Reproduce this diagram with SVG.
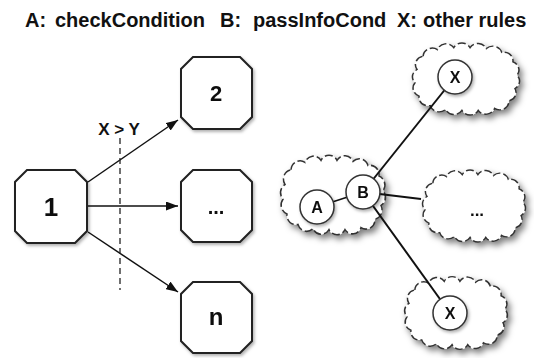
<svg xmlns="http://www.w3.org/2000/svg" width="534" height="358" viewBox="0 0 534 358">
<style>
text{font-family:"Liberation Sans",Arial,sans-serif;font-weight:bold;fill:#111}
.title{font-size:20px}
.oct{fill:#fff;stroke:#222;stroke-width:2}
.cloud{fill:#fff;stroke:#333;stroke-width:1.5;stroke-dasharray:8 3}
.circ{fill:#fff;stroke:#333;stroke-width:1.5}
.edge{stroke:#111;stroke-width:1.5;fill:none}
.link{stroke:#111;stroke-width:2;fill:none}
.lbl{text-anchor:middle}
</style>
<defs>
<filter id="sh" x="-20%" y="-20%" width="150%" height="150%">
<feDropShadow dx="3" dy="4" stdDeviation="3" flood-color="#000" flood-opacity="0.5"/>
</filter>
<filter id="sh2" x="-20%" y="-20%" width="150%" height="150%">
<feDropShadow dx="1.5" dy="2" stdDeviation="1.5" flood-color="#000" flood-opacity="0.3"/>
</filter>
<marker id="arr" viewBox="0 0 12 9" refX="12" refY="4.5" markerWidth="12" markerHeight="9" markerUnits="userSpaceOnUse" orient="auto">
<path d="M0,0 L12,4.5 L0,9 Z" fill="#111"/>
</marker>
<path id="cloudShape" d="M-42,-24 A9,9 0 0 1 -28,-31 A9,9 0 0 1 -12,-33 A9,9 0 0 1 4,-33 A9,9 0 0 1 20,-32 A9,9 0 0 1 35,-28 A9,9 0 0 1 46,-18 A9,9 0 0 1 50,-4 A9,9 0 0 1 48,10 A9,9 0 0 1 42,23 A9,9 0 0 1 28,31 A9,9 0 0 1 12,33 A9,9 0 0 1 -4,33 A9,9 0 0 1 -20,32 A9,9 0 0 1 -35,28 A9,9 0 0 1 -46,18 A9,9 0 0 1 -50,4 A9,9 0 0 1 -48,-10 A9,9 0 0 1 -42,-24 Z"/>
</defs>

<g id="title">
<text class="title" x="25" y="27">A:</text>
<text class="title" x="55" y="27">checkCondition</text>
<text class="title" x="220" y="27">B:</text>
<text class="title" x="253" y="27">passInfoCond</text>
<text class="title" x="397" y="27">X:</text>
<text class="title" x="423" y="27">other rules</text>
</g>

<!-- left diagram -->
<g id="node-1" filter="url(#sh2)">
<path class="oct" d="M27,170 H75 L87,182 V231 L75,243 H27 L15,231 V182 Z"/>
<text class="lbl" x="51" y="216" style="font-size:26px">1</text>
</g>
<g id="node-2" filter="url(#sh2)">
<path class="oct" d="M193,57 H240 L252,69 V117 L240,129 H193 L181,117 V69 Z"/>
<text class="lbl" x="216" y="101" style="font-size:22px">2</text>
</g>
<g id="node-dots" filter="url(#sh2)">
<path class="oct" d="M193,170 H240 L252,182 V230 L240,242 H193 L181,230 V182 Z"/>
<text class="lbl" x="216" y="214" style="font-size:20px">...</text>
</g>
<g id="node-n" filter="url(#sh2)">
<path class="oct" d="M193,282 H240 L252,294 V341 L240,353 H193 L181,341 V294 Z"/>
<text class="lbl" x="216" y="325" style="font-size:24px">n</text>
</g>

<g id="connectors-left">
<line class="edge" x1="88" y1="182" x2="178" y2="120" marker-end="url(#arr)"/>
<line class="edge" x1="88" y1="206" x2="178" y2="206" marker-end="url(#arr)"/>
<line class="edge" x1="88" y1="232" x2="178" y2="292" marker-end="url(#arr)"/>
<line x1="120" y1="138" x2="120" y2="290" stroke="#222" stroke-width="1.3" stroke-dasharray="6 4"/>
<text class="lbl" x="119" y="135" style="font-size:17px">X &gt; Y</text>
</g>

<!-- right diagram -->
<g id="cloud-top" filter="url(#sh)">
<use href="#cloudShape" class="cloud" transform="translate(466,79) scale(1.02,0.95)"/>
</g>
<g id="cloud-left" filter="url(#sh)">
<use href="#cloudShape" class="cloud" transform="translate(333,195) scale(1.0,1.05)"/>
</g>
<g id="cloud-dots" filter="url(#sh)">
<use href="#cloudShape" class="cloud" transform="translate(474,206) scale(0.98,0.95)"/>
<text class="lbl" x="477" y="216" style="font-size:17px">...</text>
</g>
<g id="cloud-bottom" filter="url(#sh)">
<use href="#cloudShape" class="cloud" transform="translate(456,313) scale(0.98,0.96)"/>
</g>

<g id="connectors-right">
<line class="link" x1="363" y1="192" x2="455" y2="77"/>
<line class="link" x1="363" y1="192" x2="421" y2="199"/>
<line class="link" x1="363" y1="192" x2="450" y2="313"/>
<line class="edge" x1="317" y1="207" x2="363" y2="192"/>
</g>

<g id="node-A" filter="url(#sh2)">
<circle class="circ" cx="317" cy="207" r="17"/>
<text class="lbl" x="317" y="213" style="font-size:16px">A</text>
</g>
<g id="node-B" filter="url(#sh2)">
<circle class="circ" cx="363" cy="192" r="17"/>
<text class="lbl" x="363" y="198" style="font-size:16px">B</text>
</g>
<g id="node-X1" filter="url(#sh2)">
<circle class="circ" cx="455" cy="77" r="17"/>
<text class="lbl" x="455" y="83" style="font-size:16px">X</text>
</g>
<g id="node-X2" filter="url(#sh2)">
<circle class="circ" cx="450" cy="313" r="17"/>
<text class="lbl" x="450" y="319" style="font-size:16px">X</text>
</g>
</svg>
